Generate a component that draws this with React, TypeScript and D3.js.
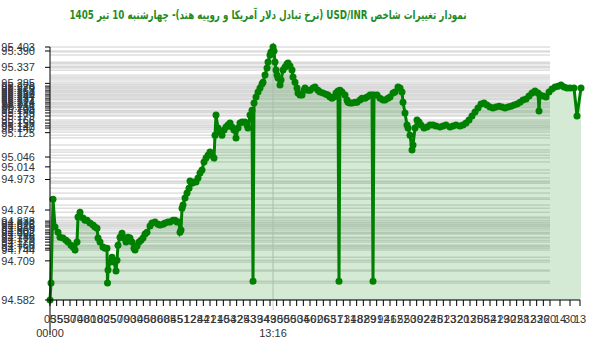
import React from 'react';
import * as d3 from 'd3';

const title = 'نمودار تغییرات شاخص USD/INR (نرخ تبادل دلار آمریکا و روپیه هند)- چهارشنبه  10 تیر 1405';

// sample position (sequence units) and index value
const times = [
  0, 2, 6, 10, 16, 20, 26, 32, 36, 42, 46, 50, 54, 56, 60, 66, 70, 74, 80, 86, 90, 94, 96, 100, 106, 110, 114, 115, 116, 120,
  124, 128, 132, 134, 136, 140, 144, 148, 152, 156, 160, 164, 168, 170, 174, 178, 182, 186, 190, 194, 200, 204, 210, 216, 220, 226, 230, 236, 240, 246,
  250, 254, 258, 260, 262, 264, 266, 270, 274, 278, 280, 284, 288, 292, 296, 300, 304, 308, 312, 316, 320, 324, 328, 330, 332, 336, 340, 344, 348, 352,
  356, 360, 364, 368, 372, 376, 380, 384, 390, 394, 396, 400, 404, 406, 408, 412, 416, 420, 424, 426, 430, 434, 436, 440, 442, 446, 448, 450, 452, 454,
  456, 460, 462, 466, 470, 474, 476, 480, 484, 486, 490, 494, 496, 500, 504, 508, 510, 516, 520, 526, 530, 536, 540, 546, 552, 556, 560, 564, 568, 572,
  576, 578, 580, 584, 590, 594, 596, 600, 604, 610, 614, 620, 624, 630, 634, 640, 644, 646, 648, 654, 660, 666, 670, 676, 680, 686, 690, 696, 700, 704,
  706, 710, 714, 716, 720, 724, 726, 730, 734, 738, 742, 748, 754, 760, 766, 772, 780, 786, 792, 800, 806, 812, 820, 826, 832, 838, 844, 850, 856, 862,
  868, 874, 880, 886, 892, 898, 904, 910, 916, 922, 928, 934, 940, 946, 952, 958, 964, 970, 976, 978, 980, 986, 992, 998, 1004, 1010, 1016, 1022, 1028, 1034,
  1040, 1048, 1054, 1062,
];

const values = [
  94.582, 94.637, 94.909, 94.819, 94.802, 94.786, 94.783, 94.776, 94.770, 94.760, 94.754, 94.744, 94.770, 94.851, 94.867, 94.848, 94.841, 94.841, 94.832, 94.825, 94.819, 94.815, 94.783, 94.770, 94.754, 94.750, 94.750, 94.637, 94.679, 94.705,
  94.721, 94.705, 94.676, 94.711, 94.760, 94.786, 94.799, 94.783, 94.770, 94.786, 94.783, 94.770, 94.750, 94.744, 94.757, 94.770, 94.776, 94.783, 94.796, 94.802, 94.822, 94.832, 94.835, 94.828, 94.825, 94.828, 94.832, 94.835, 94.835, 94.841,
  94.841, 94.835, 94.835, 94.802, 94.809, 94.880, 94.890, 94.913, 94.929, 94.945, 94.968, 94.961, 94.965, 94.965, 94.978, 94.994, 95.004, 95.030, 95.043, 95.052, 95.062, 95.052, 95.043, 95.117, 95.182, 95.140, 95.127, 95.117, 95.134, 95.143,
  95.150, 95.156, 95.143, 95.134, 95.108, 95.140, 95.156, 95.160, 95.160, 95.150, 95.140, 95.182, 95.198, 94.643, 95.221, 95.241, 95.257, 95.270, 95.283, 95.289, 95.312, 95.335, 95.354, 95.377, 95.387, 95.403, 95.390, 95.354, 95.328, 95.312,
  95.302, 95.280, 95.296, 95.328, 95.338, 95.348, 95.351, 95.341, 95.328, 95.306, 95.289, 95.270, 95.254, 95.247, 95.247, 95.263, 95.270, 95.263, 95.263, 95.270, 95.273, 95.263, 95.257, 95.254, 95.250, 95.247, 95.241, 95.237, 95.241, 95.254,
  95.260, 94.643, 95.263, 95.257, 95.247, 95.231, 95.224, 95.221, 95.221, 95.224, 95.224, 95.231, 95.237, 95.237, 95.241, 95.247, 95.247, 94.643, 95.247, 95.247, 95.237, 95.231, 95.231, 95.237, 95.241, 95.254, 95.257, 95.273, 95.270, 95.257,
  95.224, 95.189, 95.150, 95.140, 95.117, 95.069, 95.085, 95.140, 95.166, 95.160, 95.150, 95.140, 95.143, 95.150, 95.150, 95.147, 95.143, 95.147, 95.150, 95.143, 95.147, 95.150, 95.147, 95.150, 95.156, 95.166, 95.179, 95.192, 95.205, 95.218,
  95.221, 95.215, 95.208, 95.205, 95.208, 95.211, 95.208, 95.205, 95.208, 95.211, 95.215, 95.218, 95.224, 95.231, 95.234, 95.244, 95.254, 95.260, 95.254, 95.195, 95.247, 95.244, 95.241, 95.257, 95.267, 95.273, 95.276, 95.280, 95.273, 95.270,
  95.270, 95.270, 95.179, 95.270,
];

const yTickValues = [
  95.403, 95.390, 95.337,
  95.285, 95.276, 95.270, 95.263, 95.257, 95.250, 95.244, 95.237, 95.231, 95.224, 95.218, 95.211, 95.205, 95.198, 95.189, 95.179, 95.166, 95.156, 95.147, 95.140, 95.125,
  95.046, 95.014, 94.973, 94.874,
  94.838, 94.832, 94.825, 94.819, 94.809, 94.802, 94.796, 94.786, 94.779, 94.770, 94.760, 94.750, 94.744,
  94.709, 94.582,
];

const xTickLabels = [
  '05', '35', '55', '30', '70', '40', '80', '10', '80', '25', '50', '70', '90', '30', '40', '50', '80', '60', '85', '45',
  '51', '12', '28', '44', '21', '21', '40', '54', '32', '25', '43', '39', '34', '49', '30', '50', '50', '50', '34', '56',
  '02', '06', '63', '51', '71', '31', '48', '82', '89', '91', '92', '41', '62', '52', '50', '30', '92', '24', '25', '81',
  '23', '32', '20', '13', '25', '08', '52', '41', '29', '30', '22', '58', '12', '33', '26', '20', '14', '30', '13',
];

const minTimeLabel = '00:00';
const maxTimeLabel = '13:16';

export default function App() {
  const W = 600;
  const H = 352;
  const left = 50;
  const right = 581;
  const top = 47;
  const bottom = 300;

  const x = d3.scaleLinear().domain([d3.min(times)!, d3.max(times)!]).range([left, right]);
  const y = d3.scaleLinear().domain([d3.min(values)!, d3.max(values)!]).range([bottom, top]);

  const pts = times.map((t, i) => [t, values[i]] as [number, number]);
  const line = d3.line<[number, number]>().x((d) => x(d[0])).y((d) => y(d[1]));
  const area = d3
    .area<[number, number]>()
    .x((d) => x(d[0]))
    .y0(bottom)
    .y1((d) => y(d[1]));

  const gridEnd = x(1000);
  const uniq = Array.from(new Set(values));

  const n = xTickLabels.length;
  const tickTimes = xTickLabels.map((_, i) =>
    i < n - 3 ? (i * 1000) / (n - 4) : 1000 + (i - (n - 4)) * 20
  );

  const iMin = values.indexOf(d3.min(values)!);
  const iMax = values.indexOf(d3.max(values)!);

  const font = "'Liberation Sans', Arial, sans-serif";

  return (
    <svg
      width={W}
      height={H}
      style={{ position: 'absolute', left: 0, top: 0, background: '#fff' }}
    >
      <text
        x={268}
        y={19}
        textAnchor="middle"
        direction="rtl"
        style={{ direction: 'rtl', unicodeBidi: 'embed' }}
        fontFamily="'DejaVu Sans', sans-serif"
        fontWeight="bold"
        fontSize={12}
        textLength={397}
        lengthAdjust="spacingAndGlyphs"
        fill="#1f8c1f"
      >
        {title}
      </text>

      {uniq.map((v, i) => (
        <line key={'g' + i} x1={left} x2={gridEnd} y1={y(v)} y2={y(v)} stroke="#cfcfcf" strokeWidth={1} />
      ))}

      <line x1={x(times[iMax])} x2={x(times[iMax])} y1={top} y2={310} stroke="#cccccc" strokeWidth={1} />

      <path d={area(pts)!} fill="green" fillOpacity={0.17} />
      <path d={line(pts)!} fill="none" stroke="green" strokeWidth={3} />
      {pts.map((d, i) => (
        <circle key={'c' + i} cx={x(d[0])} cy={y(d[1])} r={3.5} fill="green" />
      ))}

      {/* y axis */}
      <line x1={left} x2={left} y1={top} y2={bottom} stroke="#000" />
      <line x1={left} x2={left} y1={bottom} y2={335} stroke="#000" />
      {yTickValues.map((v, i) => (
        <g key={'y' + i}>
          <line x1={left - 5} x2={left} y1={y(v)} y2={y(v)} stroke="#000" />
          <text x={35} y={y(v)} dy="0.35em" textAnchor="end" fontFamily={font} fontSize={11} fill="#333">
            {v.toFixed(3)}
          </text>
        </g>
      ))}

      {/* x axis */}
      <line x1={left} x2={x(tickTimes[n - 1])} y1={bottom} y2={bottom} stroke="#000" />
      {tickTimes.map((t, i) => (
        <g key={'x' + i}>
          <line x1={x(t)} x2={x(t)} y1={bottom} y2={bottom + 6} stroke="#000" />
          <text x={x(t)} y={323} textAnchor="middle" fontFamily={font} fontSize={11} fill="#333">
            {xTickLabels[i]}
          </text>
        </g>
      ))}

      <text x={x(times[iMin])} y={337} textAnchor="middle" fontFamily={font} fontSize={11} fill="#333">
        {minTimeLabel}
      </text>
      <text x={x(times[iMax])} y={337} textAnchor="middle" fontFamily={font} fontSize={11} fill="#333">
        {maxTimeLabel}
      </text>
    </svg>
  );
}
